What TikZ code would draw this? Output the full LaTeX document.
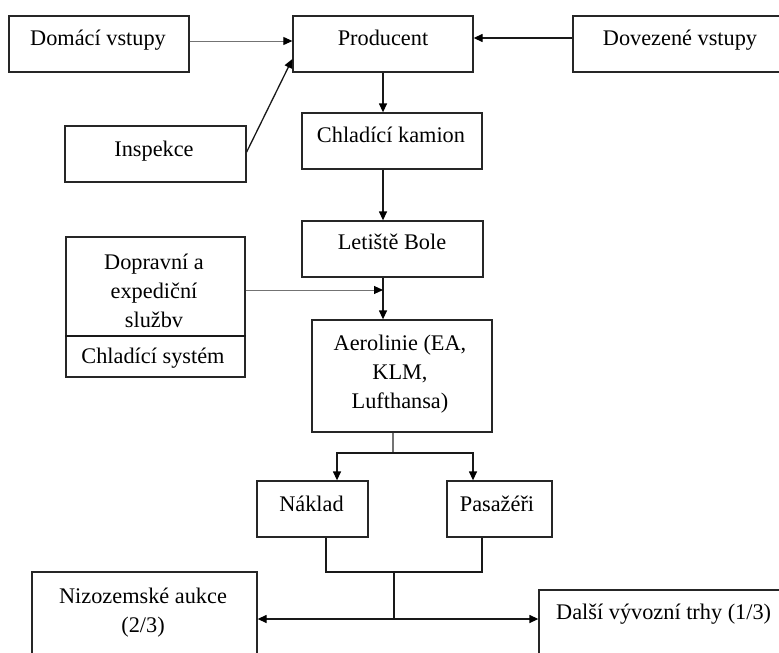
\documentclass[tikz,border=0pt]{standalone}
\usepackage{fontspec}
\setmainfont{Liberation Serif}
\usetikzlibrary{arrows.meta}
\begin{document}
\begin{tikzpicture}[x=1pt,y=-1pt,
  box/.style={draw=black!85, line width=1.3pt, inner sep=0pt},
  txt/.style={font=\fontsize{22.3}{29}\selectfont, inner sep=0pt, anchor=base, align=center},
  tip/.style={-{Triangle[length=9pt,width=8pt,color=black]}},
  barrow/.style={tip, draw=black!90, line width=1.3pt},
  garrow/.style={tip, draw=black!55, line width=1pt},
  bline/.style={draw=black!90, line width=1.3pt},
  gline/.style={draw=black!55, line width=2pt}]
\path[use as bounding box] (0,0) rectangle (779,653);
\clip (0,0) rectangle (779,653);

% boxes
\node[box, minimum width=180pt, minimum height=56pt] (dom)  at (99,44) {};
\node[box, minimum width=180pt, minimum height=56pt] (prod) at (383,44) {};
\node[box, minimum width=227pt, minimum height=56pt] (dov)  at (686.5,44) {};
\node[box, minimum width=181pt, minimum height=56pt] (insp) at (155.5,154) {};
\node[box, minimum width=180pt, minimum height=56pt] (kam)  at (392,141) {};
\node[box, minimum width=181pt, minimum height=56pt] (bole) at (392.5,249) {};
\node[box, minimum width=179pt, minimum height=140pt] (dop) at (155.5,307) {};
\node[box, minimum width=180pt, minimum height=112pt] (aero) at (402,376) {};
\node[box, minimum width=111pt, minimum height=56pt] (nak)  at (312.5,509) {};
\node[box, minimum width=105pt, minimum height=56pt] (pas)  at (499.5,509) {};
\node[box, minimum width=225pt, minimum height=108pt] (niz) at (144.5,626) {};
\node[box, minimum width=261pt, minimum height=90pt] (dal)  at (669.5,635) {};

% divider inside the services box
\draw[bline] ([yshift=-29pt]dop.west) -- ([yshift=-29pt]dop.east);

% texts (multi-line nodes are placed by the baseline of their last line)
\node[txt] (t-dom)  at (98,45) {Domácí vstupy};
\node[txt] (t-prod) at (383,45) {Producent};
\node[txt] (t-dov)  at (680,45) {Dovezené vstupy};
\node[txt] (t-insp) at (154,156) {Inspekce};
\node[txt] (t-kam)  at (391,142) {Chladící kamion};
\node[txt] (t-bole) at (392,249) {Letiště Bole};
\node[txt] (t-dop)  at (154,327) {Dopravní a\\expediční\\službv};
\node[txt] (t-sys)  at (153,363) {Chladící systém};
\node[txt] (t-aero) at (400,408) {Aerolinie (EA,\\KLM,\\Lufthansa)};
\node[txt] (t-nak)  at (311.5,511) {Náklad};
\node[txt] (t-pas)  at (497,511) {Pasažéři};
\node[txt] (t-niz)  at (143,632) {Nizozemské aukce\\(2/3)};
\node[txt, anchor=base west] (t-dal) at (556,619) {Další vývozní trhy (1/3)};

% inputs to the producer
\draw[garrow] ([yshift=3pt]dom.east) -- ([yshift=3pt]prod.west);
\draw[barrow] ([yshift=6pt]dov.west) -- ([yshift=6pt]prod.east);
\draw[barrow] ([yshift=2pt]insp.east) -- ([yshift=-15pt]prod.west);

% main chain
\draw[barrow] (prod.south) -- (prod.south |- kam.north);
\draw[barrow] (prod.south |- kam.south) -- (prod.south |- bole.north);
\draw[barrow] (prod.south |- bole.south) -- (prod.south |- aero.north);
\draw[garrow] ([yshift=17pt]dop.east) -- ([yshift=17pt]dop.east -| prod.south);

% split to cargo and passengers
\coordinate (br) at (393,453);
\draw[gline] ([xshift=-9pt]aero.south) -- (br);
\draw[barrow] (br) -| ([xshift=24.5pt]nak.north);
\draw[barrow] (br) -| ([xshift=-26.5pt]pas.north);

% join and distribution to markets
\coordinate (jn) at (394,572);
\coordinate (hub) at (394,619);
\draw[bline] ([xshift=13.5pt]nak.south) |- (jn) -| ([xshift=-17.5pt]pas.south);
\draw[bline] (jn) -- (hub);
\draw[barrow] (hub) -- (niz.east |- hub);
\draw[barrow] (hub) -- (dal.west |- hub);
\end{tikzpicture}
\end{document}
